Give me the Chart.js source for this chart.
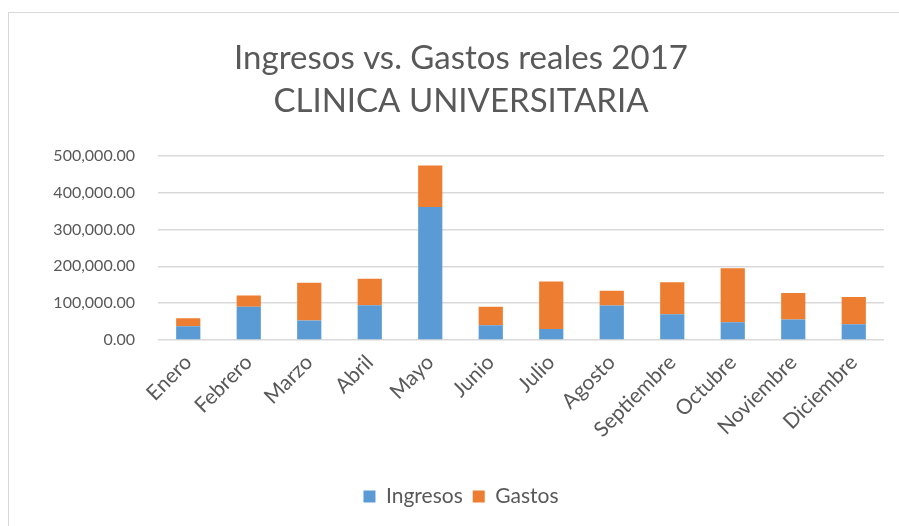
<!DOCTYPE html>
<html>
<head>
<meta charset="utf-8">
<script src="https://cdn.jsdelivr.net/npm/chart.js@4.4.0/dist/chart.umd.min.js"></script>
<style>
    body { margin: 0; background: #fff; overflow: hidden; }
    #frame {
        position: absolute; left: 8px; top: 12px;
        width: 895px; height: 520px;
        border-left: 1px solid #d9d9d9; border-top: 1px solid #d9d9d9;
    }
    #wrap { position: absolute; left: 0; top: 0; width: 890px; height: 514px; }
</style>
</head>
<body>
<div id="frame"><div id="wrap"><canvas id="chart"></canvas></div></div>
<script>
// months (categories)
const months = ['Enero', 'Febrero', 'Marzo', 'Abril', 'Mayo', 'Junio', 'Julio',
    'Agosto', 'Septiembre', 'Octubre', 'Noviembre', 'Diciembre'];
// values
const ingresos = [37000, 90000, 53000, 94500, 361000, 40000, 30000, 93500, 70000, 48000, 55500, 42500];
const gastos = [22000, 31000, 102500, 72000, 112500, 50000, 129000, 40000, 86500, 146500, 72000, 74000];
const yTicks = [0, 100000, 200000, 300000, 400000, 500000];

const fontFamily = 'Lato, "Open Sans", sans-serif';
const textColor = '#595959';

const ctx = document.getElementById('chart').getContext('2d');
new Chart(ctx, {
    type: 'bar',
    data: {
        labels: months,
        datasets: [
            { label: 'Ingresos', data: ingresos, backgroundColor: '#5b9bd5' },
            { label: 'Gastos', data: gastos, backgroundColor: '#ed7d31' }
        ]
    },
    options: {
        responsive: true,
        maintainAspectRatio: false,
        animation: false,
        // left/right padding keeps the title centred where the reference has it
        layout: { padding: { left: 29, right: 15, top: 24, bottom: 10 } },
        datasets: { bar: { categoryPercentage: 1, barPercentage: 0.4 } },
        scales: {
            x: {
                stacked: true,
                grid: { display: false },
                border: { display: false },
                afterFit: axis => { axis.height = 136; },
                ticks: {
                    color: textColor, font: { family: fontFamily, size: 21 },
                    minRotation: 45, maxRotation: 45, padding: 2
                }
            },
            y: {
                stacked: true,
                min: 0, max: 500000,
                afterBuildTicks: axis => { axis.ticks = yTicks.map(v => ({ value: v })); },
                afterFit: axis => { axis.width = 120; },
                grid: { color: '#d9d9d9', lineWidth: 1.5, drawTicks: false },
                border: { display: false },
                ticks: {
                    color: textColor, font: { family: fontFamily, size: 16 }, padding: 23,
                    callback: v => v.toLocaleString('en-US', { minimumFractionDigits: 2, maximumFractionDigits: 2 })
                }
            }
        },
        plugins: {
            title: {
                display: true,
                text: ['Ingresos vs. Gastos reales 2017', 'CLINICA UNIVERSITARIA'],
                color: textColor,
                font: { family: fontFamily, size: 33, weight: 'normal', lineHeight: 1.3 },
                padding: { top: 0, bottom: 33 }
            },
            legend: {
                position: 'bottom',
                labels: {
                    color: textColor, font: { family: fontFamily, size: 21 },
                    boxWidth: 12, boxHeight: 12, padding: 10
                }
            },
            tooltip: { enabled: false }
        }
    }
});
</script>
</body>
</html>
